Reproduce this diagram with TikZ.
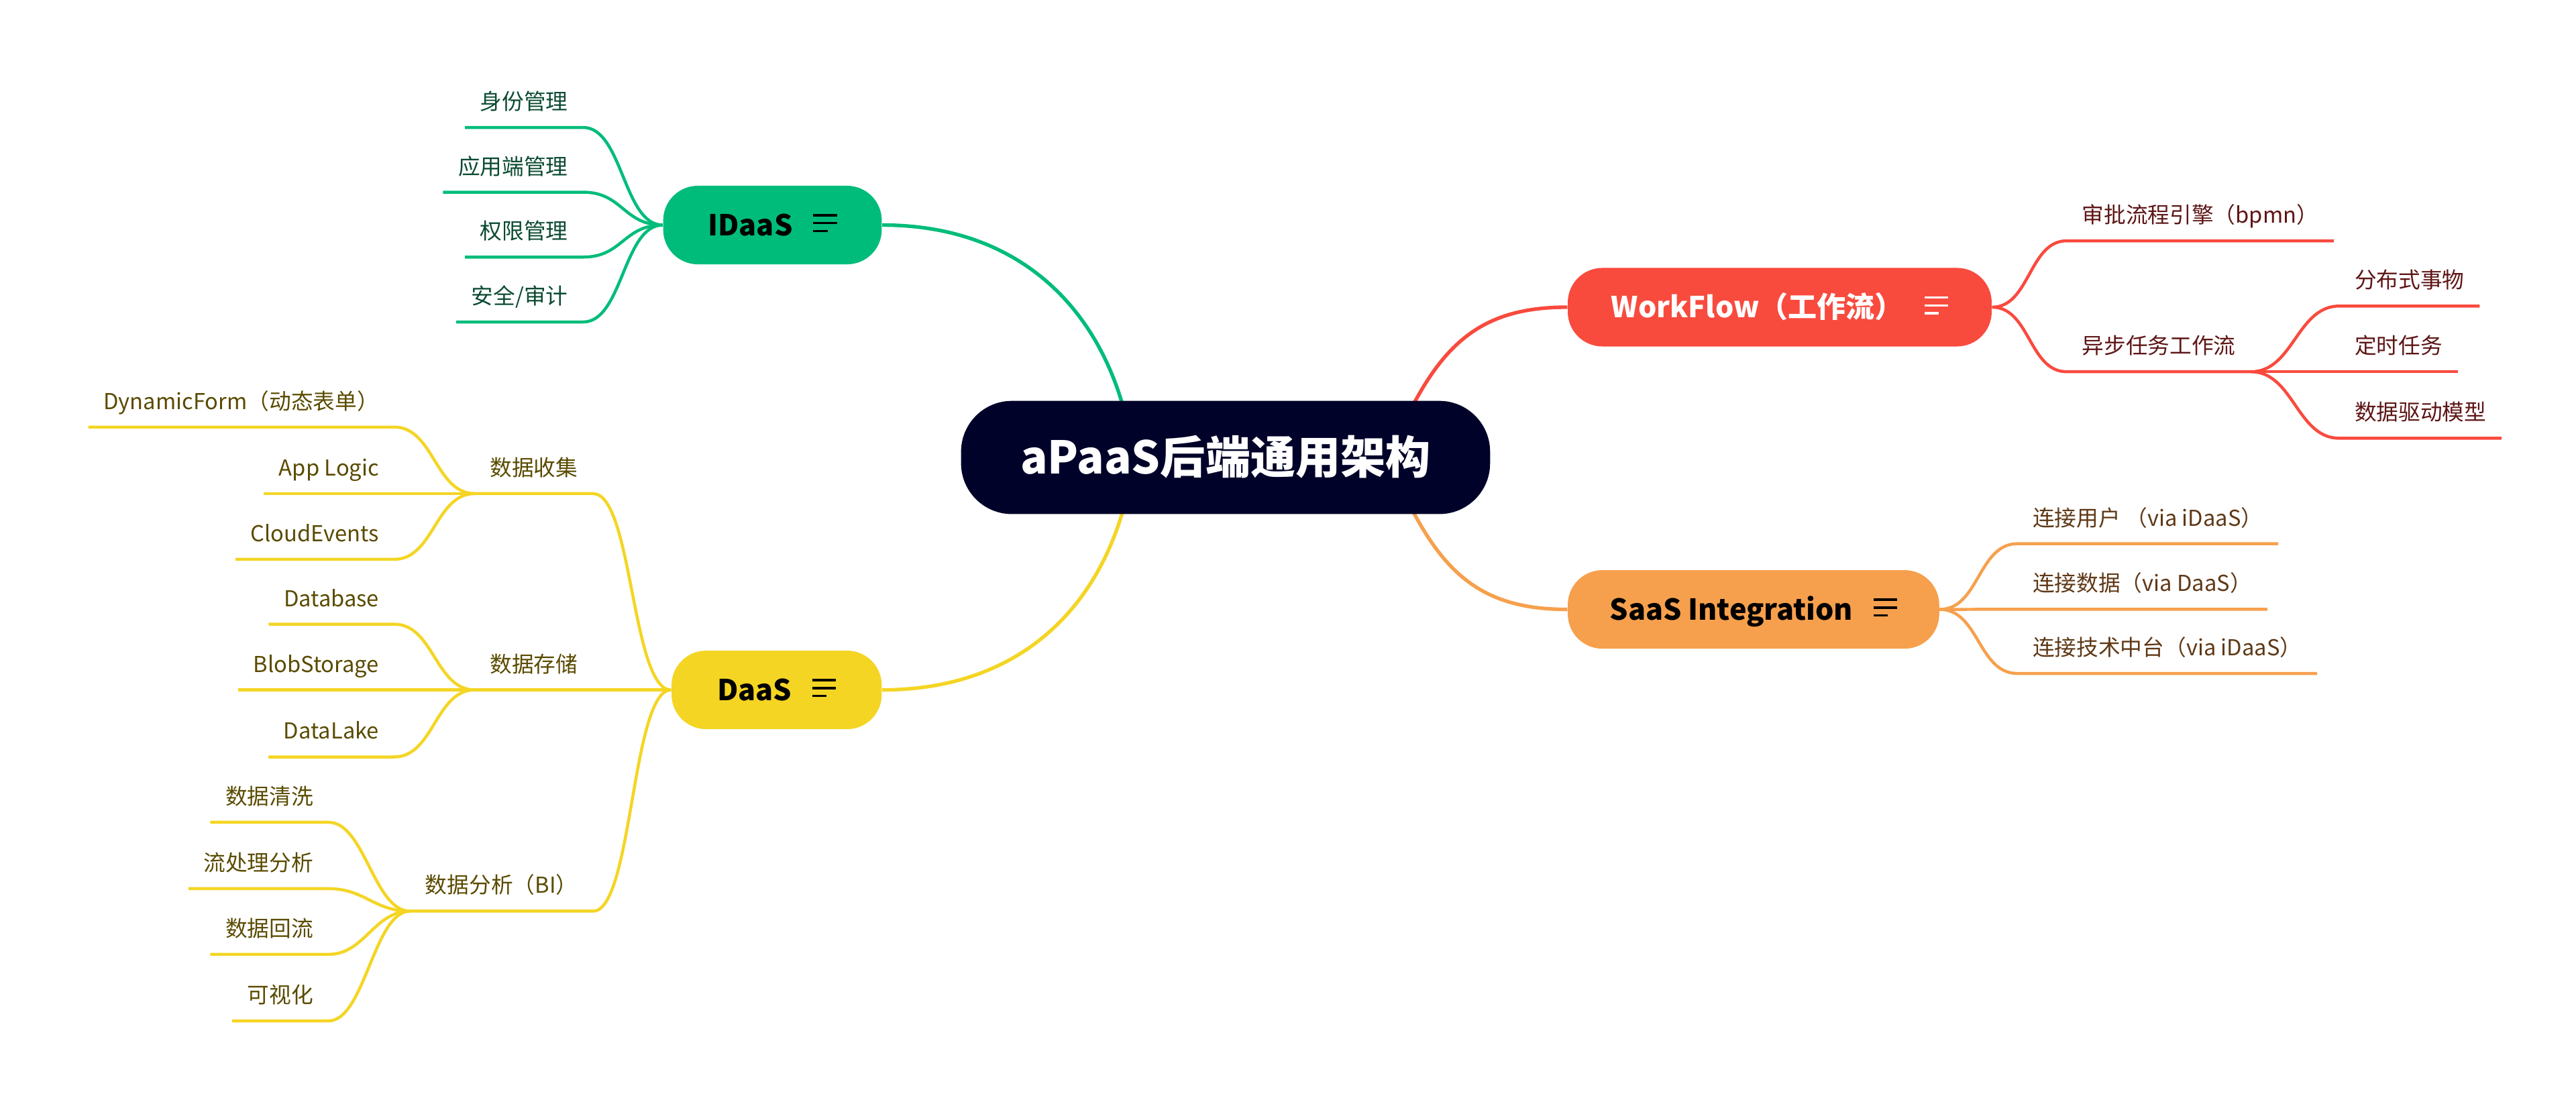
\documentclass[tikz,border=0pt]{standalone}
\usepackage{fontspec}
\setmainfont{Noto Sans CJK SC}
\usepackage{tikz}
\usetikzlibrary{calc}

\definecolor{hubbg}{HTML}{000229}
\definecolor{idgreen}{HTML}{00BC7A}
\definecolor{idtext}{HTML}{0B4A31}
\definecolor{dayellow}{HTML}{F4D524}
\definecolor{datext}{HTML}{5A4B00}
\definecolor{wfred}{HTML}{F94A3E}
\definecolor{wftext}{HTML}{5E1616}
\definecolor{saorange}{HTML}{F6A04D}
\definecolor{satext}{HTML}{5F3816}

\newcommand{\notesicon}{\raisebox{1.5pt}{\vbox{\hrule width 10.3pt height 1pt\vskip 2.4pt\hrule width 10.3pt height 1pt\vskip 2.4pt\hrule width 6.2pt height 1pt}}}

\tikzset{
  trunk/.style={line width=1.55pt},
  twig/.style={line width=1.3pt},
  link/.style={to path={.. controls +(#1,0) and +(-#1,0) .. (\tikztotarget)}},
  link/.default=24,
  topic/.style={rounded corners=15pt, minimum height=34pt, inner xsep=8pt, inner ysep=0pt,
    text height=10.6pt, text depth=1.4pt, font=\bfseries\fontsize{12.5}{15}\selectfont},
  leaf/.style={inner xsep=6.4pt, inner ysep=0pt, text height=7.5pt, text depth=7.5pt,
    font=\fontsize{9.5}{11}\selectfont}
}

\begin{document}
\begin{tikzpicture}[x=0.025cm, y=-0.025cm]
    \useasboundingbox (0,0) rectangle (1568,670.5);

    % main topics
    \node[topic, fill=idgreen, minimum width=94.6pt, anchor=east] (IDaaS) at (537,137) {IDaaS\hspace{8.9pt}\notesicon};
    \node[topic, fill=dayellow, minimum width=91pt, anchor=east] (DaaS) at (537,420) {DaaS\hspace{8.9pt}\notesicon};
    \node[topic, fill=wfred, text=white, minimum width=183.5pt, anchor=west] (WorkFlow) at (954,187) {WorkFlow（工作流）\hspace{8.9pt}\notesicon};
    \node[topic, fill=saorange, minimum width=160.8pt, anchor=west] (SaaS) at (954,371) {SaaS Integration\hspace{8.9pt}\notesicon};

    \coordinate (hubL) at (690,279);
    \coordinate (hubR) at (845,279);
    \draw[trunk, idgreen] (IDaaS.east) .. controls +(93,0) and +(-10,-79) .. (hubL);
    \draw[trunk, dayellow] (DaaS.east) .. controls +(93,0) and +(-10,79) .. (hubL);
    \draw[trunk, wfred] (WorkFlow.west) .. controls +(-59,0) and +(27,-64) .. (hubR);
    \draw[trunk, saorange] (SaaS.west) .. controls +(-59,0) and +(27,64) .. (hubR);

    \node[fill=hubbg, text=white, rounded corners=22pt, minimum width=229pt, minimum height=49pt,
      inner sep=0pt, text height=16.4pt, text depth=2pt, font=\bfseries\fontsize{19.5}{23}\selectfont]
      (hub) at (746,278.5) {aPaaS后端通用架构};

    % IDaaS
    \node[leaf, text=idtext, anchor=south east] (i1) at (355,77.6) {身份管理};
    \node[leaf, text=idtext, anchor=south east] (i2) at (355,117) {应用端管理};
    \node[leaf, text=idtext, anchor=south east] (i3) at (355,156.5) {权限管理};
    \node[leaf, text=idtext, anchor=south east] (i4) at (355,196) {安全/审计};
    \foreach \n in {i1,i2,i3,i4}
        \draw[twig, idgreen] (\n.south west) -- (\n.south east) to[link] (IDaaS.west);

    % DaaS
    \node[leaf, text=datext, anchor=south east] (d1) at (361,300.5) {数据收集};
    \node[leaf, text=datext, anchor=south east] (d2) at (361,420) {数据存储};
    \node[leaf, text=datext, anchor=south east] (d3) at (361,554.7) {数据分析（BI）};
    \node[leaf, text=datext, anchor=south east] (d11) at (240,260) {DynamicForm（动态表单）};
    \node[leaf, text=datext, anchor=south east] (d12) at (240,300.5) {App Logic};
    \node[leaf, text=datext, anchor=south east] (d13) at (240,340.5) {CloudEvents};
    \node[leaf, text=datext, anchor=south east] (d21) at (240,380) {Database};
    \node[leaf, text=datext, anchor=south east] (d22) at (240,420) {BlobStorage};
    \node[leaf, text=datext, anchor=south east] (d23) at (240,460.8) {DataLake};
    \node[leaf, text=datext, anchor=south east] (d31) at (200,500.6) {数据清洗};
    \node[leaf, text=datext, anchor=south east] (d32) at (200,541) {流处理分析};
    \node[leaf, text=datext, anchor=south east] (d33) at (200,581) {数据回流};
    \node[leaf, text=datext, anchor=south east] (d34) at (200,621.5) {可视化};
    \foreach \n in {d1,d2,d3}
        \draw[twig, dayellow] (\n.south west) -- (\n.south east) to[link] (DaaS.west);
    \foreach \n in {d11,d12,d13}
        \draw[twig, dayellow] (\n.south west) -- (\n.south east) to[link] (d1.south west);
    \foreach \n in {d21,d22,d23}
        \draw[twig, dayellow] (\n.south west) -- (\n.south east) to[link] (d2.south west);
    \foreach \n in {d31,d32,d33,d34}
        \draw[twig, dayellow] (\n.south west) -- (\n.south east) to[link=22] (d3.south west);

    % WorkFlow
    \node[leaf, text=wftext, anchor=south west] (w1) at (1258,146.6) {审批流程引擎（bpmn）};
    \node[leaf, text=wftext, anchor=south west] (w2) at (1258,226.3) {异步任务工作流};
    \node[leaf, text=wftext, anchor=south west] (w21) at (1424,186.3) {分布式事物};
    \node[leaf, text=wftext, anchor=south west] (w22) at (1424,226.3) {定时任务};
    \node[leaf, text=wftext, anchor=south west] (w23) at (1424,266.8) {数据驱动模型};
    \foreach \n in {w1,w2}
        \draw[twig, wfred] (\n.south east) -- (\n.south west) to[link=-23] (WorkFlow.east);
    \foreach \n in {w21,w22,w23}
        \draw[twig, wfred] (\n.south east) -- (\n.south west) to[link=-26] (w2.south east);

    % SaaS
    \node[leaf, text=satext, anchor=south west] (s1) at (1228,331) {连接用户 （via iDaaS）};
    \node[leaf, text=satext, anchor=south west] (s2) at (1228,370.9) {连接数据（via DaaS）};
    \node[leaf, text=satext, anchor=south west] (s3) at (1228,410) {连接技术中台（via iDaaS）};
    \foreach \n in {s1,s2,s3}
        \draw[twig, saorange] (\n.south east) -- (\n.south west) to[link=-24] (SaaS.east);
\end{tikzpicture}
\end{document}
